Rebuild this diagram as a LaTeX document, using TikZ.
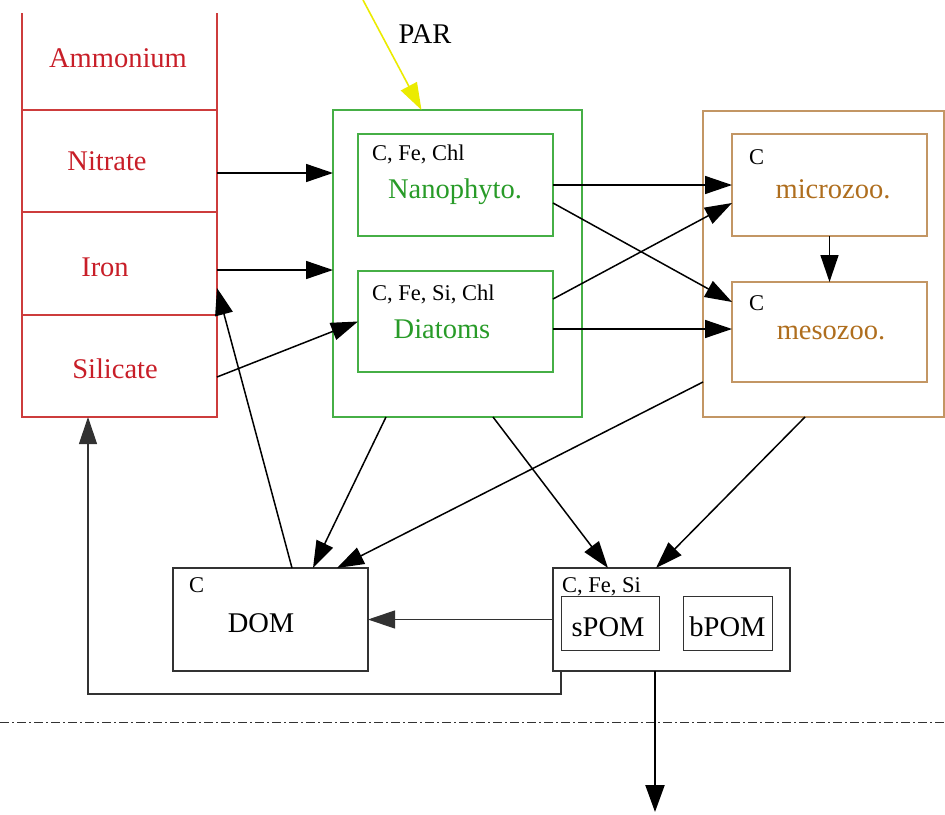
\documentclass[tikz,border=0pt]{standalone}
\usepackage{fontspec}
\setmainfont{Liberation Serif}
\usetikzlibrary{arrows.meta}
\definecolor{nutred}{RGB}{200,30,40}
\definecolor{nutline}{RGB}{205,60,60}
\definecolor{phygreen}{RGB}{40,155,40}
\definecolor{phyline}{RGB}{70,175,70}
\definecolor{zootext}{RGB}{175,110,30}
\definecolor{zooline}{RGB}{195,150,100}
\definecolor{paryellow}{RGB}{235,235,0}
\definecolor{boxgray}{RGB}{50,50,50}
\begin{document}
\begin{tikzpicture}[x=1pt,y=-1pt,
  cell/.style={rectangle,inner sep=0pt,outer sep=0pt,minimum width=195pt},
  box/.style={rectangle,draw,inner sep=0pt,outer sep=0pt,line width=1.2pt},
  big/.style={font=\fontsize{28.5}{30}\selectfont,inner sep=0pt},
  small/.style={font=\fontsize{22.5}{24}\selectfont,inner sep=0pt},
  tipstyle/.style={-{Triangle[length=27pt,width=18pt]}},
  arr/.style={line width=1.5pt,tipstyle},
  thinarr/.style={line width=1.2pt,draw=boxgray,tipstyle},
  lbl/.style={anchor=base}]
\useasboundingbox (0,0) rectangle (945,814);

% nutrient column
\node[cell,minimum height=97pt] (amm) at (119.5,61.5) {};
\node[cell,minimum height=102pt] (nit) at (119.5,161) {};
\node[cell,minimum height=103pt] (iron) at (119.5,263.5) {};
\node[cell,minimum height=102pt] (sil) at (119.5,366) {};
\draw[nutline,line width=1.2pt] (amm.north west) -- (sil.south west) -- (sil.south east) -- (amm.north east);
\draw[nutline,line width=1.2pt] (nit.north west) -- (nit.north east);
\draw[nutline,line width=1.2pt] (iron.north west) -- (iron.north east);
\draw[nutline,line width=1.2pt] (sil.north west) -- (sil.north east);
\node[big,lbl,text=nutred] (tamm) at (118,67) {Ammonium};
\node[big,lbl,text=nutred] (tnit) at (107,170) {Nitrate};
\node[big,lbl,text=nutred] (tiron) at (105,276) {Iron};
\node[big,lbl,text=nutred] (tsil) at (115,378) {Silicate};

% phytoplankton
\node[box,draw=phyline,minimum width=249pt,minimum height=307pt] (phyto) at (457.5,263.5) {};
\node[box,draw=phyline,minimum width=195pt,minimum height=102pt] (nano) at (455.5,185) {};
\node[box,draw=phyline,minimum width=195pt,minimum height=101pt] (diat) at (455.5,321.5) {};
\node[small,anchor=base west] (tnanoel) at (372,160) {C, Fe, Chl};
\node[big,lbl,text=phygreen] (tnano) at (455,198) {Nanophyto.};
\node[small,anchor=base west] (tdiatel) at (372,300) {C, Fe, Si, Chl};
\node[big,lbl,text=phygreen] (tdiat) at (442,338) {Diatoms};

% zooplankton
\node[box,draw=zooline,minimum width=241pt,minimum height=306pt] (zoo) at (823.5,264) {};
\node[box,draw=zooline,minimum width=195pt,minimum height=102pt] (micro) at (829.5,185) {};
\node[box,draw=zooline,minimum width=195pt,minimum height=100pt] (meso) at (829.5,332) {};
\node[small,anchor=base west] (tmicroel) at (749,164) {C};
\node[big,lbl,text=zootext] (tmicro) at (833,198) {microzoo.};
\node[small,anchor=base west] (tmesoel) at (749,310) {C};
\node[big,lbl,text=zootext] (tmeso) at (831,339) {mesozoo.};

% DOM / POM
\node[box,draw=boxgray,minimum width=195pt,minimum height=103pt] (dom) at (270.5,619.5) {};
\node[small,anchor=base west] (tdomel) at (189,592) {C};
\node[big,lbl] (tdom) at (261,632) {DOM};
\node[box,draw=boxgray,minimum width=237pt,minimum height=103pt] (pom) at (671.5,619.5) {};
\node[small,anchor=base west] (tpomel) at (562,592) {C, Fe, Si};
\node[box,draw=boxgray,line width=1pt,minimum width=98pt,minimum height=54pt] (spom) at (610,623) {};
\node[box,draw=boxgray,line width=1pt,minimum width=89pt,minimum height=54pt] (bpom) at (727.5,623) {};
\node[big,lbl] (tspom) at (608,636) {sPOM};
\node[big,lbl] (tbpom) at (727.5,636) {bPOM};

% PAR
\coordinate (sun) at (363,0);
\node[big,lbl] (tpar) at (425,43) {PAR};
\draw[paryellow,line width=1.6pt,tipstyle] (sun) -- ([xshift=-36pt]phyto.north);

% nutrient uptake
\coordinate (n1) at ([yshift=-12pt]nit.east);
\coordinate (i1) at ([yshift=-6.5pt]iron.east);
\draw[arr] (n1) -- (n1 -| phyto.west);
\draw[arr] (i1) -- (i1 -| phyto.west);
\draw[arr] ([yshift=-11pt]sil.east) -- (diat.west);

% grazing
\draw[arr] (nano.east) -- (micro.west);
\draw[arr] ([yshift=-18pt]nano.east) -- ([yshift=30pt]meso.west);
\draw[arr] ([yshift=22.5pt]diat.east) -- ([yshift=-18pt]micro.west);
\coordinate (d1) at ([yshift=-7.5pt]diat.east);
\draw[arr] (d1) -- (d1 -| meso.west);
\draw[arr] (micro.south) -- (meso.north);

% to DOM / POM
\draw[arr] ([xshift=-71.5pt]phyto.south) -- ([xshift=42.5pt]dom.north);
\draw[arr] ([xshift=35.5pt]phyto.south) -- ([xshift=-63.5pt]pom.north);
\draw[arr] ([yshift=-118pt]zoo.west) -- ([xshift=66.5pt]dom.north);
\draw[arr] ([xshift=-18.5pt]zoo.south) -- ([xshift=-15.5pt]pom.north);
\draw[arr] ([xshift=21.5pt]dom.north) -- ([yshift=-24.5pt]iron.east);

% remineralisation
\draw[thinarr] (pom.west) -- (dom.east);
\draw[thinarr] (spom.west |- pom.south) -- ++(0,23) -| ([xshift=-31.5pt]sil.south);

% export
\coordinate (wl) at (0,722);
\coordinate (wr) at (945,722);
\draw[boxgray,line width=1pt,dash pattern=on 9pt off 3pt on 2pt off 3pt] (wl) -- (wr);
\coordinate (sink) at (655,812);
\draw[line width=2.2pt,-{Triangle[length=27pt,width=19pt]}] ([xshift=-16.5pt]pom.south) -- (sink);
\end{tikzpicture}
\end{document}
